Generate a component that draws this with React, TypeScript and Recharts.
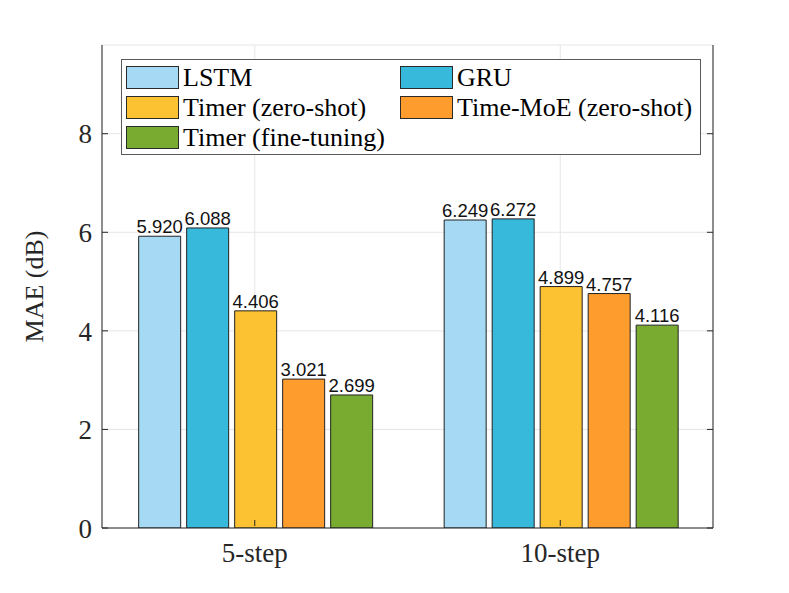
import React from 'react';
import { BarChart, Bar, XAxis, YAxis, CartesianGrid, LabelList, Legend } from 'recharts';

const horizons = ['5-step', '10-step'];
const methods = ['LSTM', 'GRU', 'Timer (zero-shot)', 'Time-MoE (zero-shot)', 'Timer (fine-tuning)'];
const lstm = [5.92, 6.249];
const gru = [6.088, 6.272];
const timerZero = [4.406, 4.899];
const timeMoeZero = [3.021, 4.757];
const timerFine = [2.699, 4.116];
const yTicks = [0, 2, 4, 6, 8];

const colors = ['#a6d9f3', '#36b9db', '#fdc232', '#fe9c2e', '#78ab30'];
const seriesValues = [lstm, gru, timerZero, timeMoeZero, timerFine];

const data = horizons.map((h, i) => {
  const row: Record<string, string | number> = { name: h };
  methods.forEach((m, k) => {
    row[m] = seriesValues[k][i];
  });
  return row;
});

const serif = '"Liberation Serif", "Times New Roman", serif';
const sans = '"Liberation Sans", Arial, sans-serif';
const axisColor = '#262626';

const YTick = (props: any) => {
  const { x, y, payload } = props;
  return (
    <g>
      <line x1={x + 10} x2={x + 16} y1={y} y2={y} stroke={axisColor} />
      <text x={x} y={y} dy="0.36em" textAnchor="end" fontFamily={serif} fontSize={27} fill={axisColor}>
        {payload.value}
      </text>
    </g>
  );
};

const RightTick = (props: any) => {
  const { x, y } = props;
  return <line x1={x - 6} x2={x} y1={y} y2={y} stroke={axisColor} />;
};

const XTick = (props: any) => {
  const { x, y, payload } = props;
  return (
    <g>
      <line x1={x} x2={x} y1={y - 2} y2={y - 8} stroke={axisColor} />
      <text x={x} y={y + 15} dy="0.71em" textAnchor="middle" fontFamily={serif} fontSize={27} fill={axisColor}>
        {payload.value}
      </text>
    </g>
  );
};

const TopTick = (props: any) => {
  const { x, y } = props;
  return <line x1={x} x2={x} y1={y} y2={y + 6} stroke={axisColor} />;
};

const LegendBox = () => (
  <div
    style={{
      width: 580,
      height: 96,
      border: '1px solid #5a5a5a',
      background: '#fff',
      boxSizing: 'border-box',
      position: 'relative',
      fontFamily: serif,
      fontSize: 26,
      color: '#000',
    }}
  >
    {methods.map((m, k) => {
      const col = k % 2;
      const row = Math.floor(k / 2);
      return (
        <div
          key={m}
          style={{
            position: 'absolute',
            left: 4 + col * 274,
            top: 6 + row * 30,
            display: 'flex',
            alignItems: 'center',
            whiteSpace: 'nowrap',
            height: 23,
          }}
        >
          <span
            style={{
              display: 'inline-block',
              width: 51,
              height: 21,
              background: colors[k],
              border: '1px solid #2a2a2a',
              marginRight: 4,
            }}
          />
          <span style={{ lineHeight: '23px' }}>{m}</span>
        </div>
      );
    })}
  </div>
);

export default function App() {
  return (
    <div style={{ position: 'absolute', left: 0, top: 0, width: 789, height: 593, background: '#fff' }}>
      <BarChart
        width={789}
        height={593}
        data={data}
        margin={{ top: 45, right: 75, bottom: 25, left: 42 }}
        barCategoryGap="12%"
        barGap={6}
      >
        <CartesianGrid stroke="#e6e6e6" />
        <XAxis
          dataKey="name"
          height={40}
          axisLine={{ stroke: axisColor }}
          tickLine={false}
          tickSize={0}
          tickMargin={0}
          tick={<XTick />}
        />
        <XAxis
          xAxisId="top"
          dataKey="name"
          orientation="top"
          height={0}
          axisLine={{ stroke: axisColor }}
          tickLine={false}
          tickSize={0}
          tickMargin={0}
          tick={<TopTick />}
        />
        <YAxis
          width={60}
          domain={[0, 9.8]}
          ticks={yTicks}
          allowDataOverflow
          axisLine={{ stroke: axisColor }}
          tickLine={false}
          tickSize={0}
          tickMargin={10}
          tick={<YTick />}
          label={{
            value: 'MAE (dB)',
            angle: -90,
            position: 'insideLeft',
            offset: -8,
            style: { fontFamily: serif, fontSize: 26, fill: axisColor, textAnchor: 'middle' },
          }}
        />
        <YAxis
          yAxisId="right"
          orientation="right"
          width={1}
          domain={[0, 9.8]}
          ticks={yTicks}
          allowDataOverflow
          axisLine={{ stroke: axisColor }}
          tickLine={false}
          tickSize={0}
          tickMargin={0}
          tick={<RightTick />}
        />
        <Legend
          layout="horizontal"
          verticalAlign="middle"
          align="center"
          wrapperStyle={{ top: 59, left: 121, width: 580 }}
          content={<LegendBox />}
        />
        {methods.map((m, k) => (
          <Bar
            key={m}
            dataKey={m}
            fill={colors[k]}
            stroke="#222"
            strokeWidth={1}
            isAnimationActive={false}
          >
            <LabelList
              dataKey={m}
              position="top"
              offset={3}
              formatter={(v: any) => Number(v).toFixed(3)}
              style={{ fontFamily: sans, fontSize: 18.5, fill: '#111' }}
            />
          </Bar>
        ))}
      </BarChart>
    </div>
  );
}
